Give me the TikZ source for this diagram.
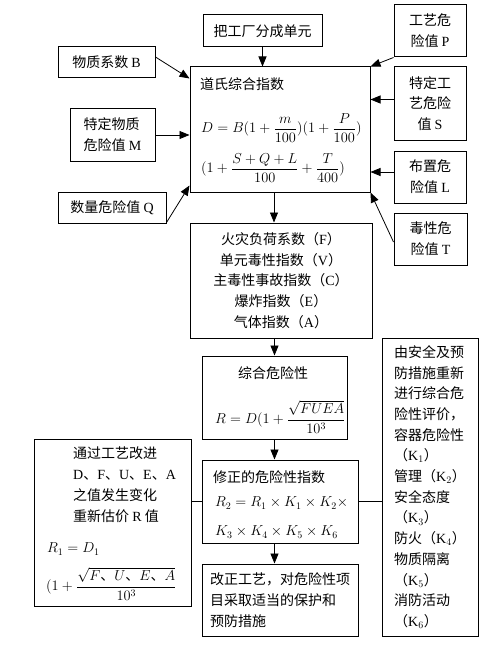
\documentclass[tikz,border=0pt]{standalone}
\usepackage{amsmath}
\usepackage{fontspec}
\setmainfont{Liberation Serif}
\newfontfamily\cjk{Noto Sans CJK SC}
\usetikzlibrary{arrows.meta,positioning}
\newcommand\dun{\mbox{\cjk 、}}
\tikzset{
  box/.style={draw, line width=1pt, inner sep=0pt, align=center, font=\cjk\fontsize{14}{20.7}\selectfont},
  txt/.style={inner sep=0pt, anchor=west, font=\cjk\fontsize{14}{20.7}\selectfont},
  link/.style={-{Triangle[width=8pt,length=10pt]}, line width=0.8pt},
}
\begin{document}
\begin{tikzpicture}[x=1pt, y=-1pt]
  \useasboundingbox (0,0) rectangle (498,650);
  %nodes
  \node[box, minimum width=119pt, minimum height=32pt] (unit) at (262.5,31) {把工厂分成单元};
  \node[box, minimum width=72pt, minimum height=52pt] (proc) at (430,31) {工艺危\\险值 \textrm{P}};
  \node[box, minimum width=97pt, minimum height=31pt] (bmat) at (106.5,62.5) {物质系数 \textrm{B}};
  \node[box, minimum width=180pt, minimum height=125pt] (dow) at (280,129.5) {};
  \node[box, align=left, minimum width=85pt, minimum height=52pt] (mspec) at (112.5,135) {特定物质\\危险值 \textrm{M}};
  \node[box, minimum width=108pt, minimum height=31pt] (qty) at (112,207.5) {数量危险值 \textrm{Q}};
  \node[box, minimum width=72pt, minimum height=73pt] (sproc) at (430,103.5) {特定工\\艺危险\\值 \textrm{S}};
  \node[box, minimum width=72pt, minimum height=52pt] (layout) at (430,177) {布置危\\险值 \textrm{L}};
  \node[box, minimum width=73pt, minimum height=52pt] (toxic) at (430.5,239) {毒性危\\险值 \textrm{T}};
  \node[box, minimum width=182pt, minimum height=115pt] (idx) at (281,280.5)
    {火灾负荷系数（\textrm{F}）\\单元毒性指数（\textrm{V}）\\主毒性事故指数（\textrm{C}）\\爆炸指数（\textrm{E}）\\气体指数（\textrm{A}）};
  \node[box, minimum width=145pt, minimum height=83pt] (risk) at (274.5,397.5) {};
  \node[box, minimum width=156pt, minimum height=83pt] (mod) at (280,501.5) {};
  \node[box, align=left, minimum width=156pt, minimum height=72pt] (fix) at (280,600)
    {改正工艺，对危险性项\\目采取适当的保护和\\预防措施};
  \node[box, align=left, minimum width=96pt, minimum height=298pt] (safety) at (430,487)
    {由安全及预\\防措施重新\\进行综合危\\险性评价，\\容器危险性\\（\textrm{K$_1$}）\\管理（\textrm{K$_2$}）\\安全态度\\（\textrm{K$_3$}）\\防火（\textrm{K$_4$}）\\物质隔离\\（\textrm{K$_5$}）\\消防活动\\（\textrm{K$_6$}）};
  \node[box, minimum width=157pt, minimum height=167pt] (improve) at (112.5,522.5) {};
  %texts in the boxes
  \node[txt] (dowtitle) at (200,84) {道氏综合指数};
  \node[txt] (dowfa) at (201,128) {$D = B(1+\dfrac{m}{100})(1+\dfrac{P}{100})$};
  \node[txt] (dowfb) at (201,168) {$(1+\dfrac{S+Q+L}{100}+\dfrac{T}{400})$};
  \node[txt, anchor=center] (risktitle) at (273,373) {综合危险性};
  \node[txt] (riskf) at (215,417) {$R = D(1+\dfrac{\sqrt{FUEA}}{10^3}$};
  \node[txt] (modtitle) at (213,477) {修正的危险性指数};
  \node[txt] (modfa) at (215,503) {$R_2 = R_1\times K_1\times K_2\times$};
  \node[txt] (modfb) at (215,532) {$K_3\times K_4\times K_5\times K_6$};
  \node[txt, align=left, anchor=north west] (imptext) at (73,447)
    {通过工艺改进\\\textrm{D}、\textrm{F}、\textrm{U}、\textrm{E}、\textrm{A}\\之值发生变化\\重新估价 \textrm{R} 值};
  \node[txt] (impfa) at (47,549) {$R_1 = D_1$};
  \node[txt] (impfb) at (46,584) {$(1+\dfrac{\sqrt{F\dun U\dun E\dun A}}{10^3}$};
  %arrows
  \draw[link] (unit.south) -- (unit.south |- dow.north);
  \draw[link] ([yshift=5.5pt]bmat.east) -- ([yshift=-12pt]dow.north west);
  \draw[link] (mspec.east) -- (mspec.east -| dow.west);
  \draw[link] ([yshift=1pt]qty.south east) -- ([yshift=7pt]dow.south west);
  \draw[link] (proc.south west) -- (dow.north east);
  \draw[link] ([yshift=4pt]sproc.west) -- ([yshift=4pt]sproc.west -| dow.east);
  \draw[link] ([yshift=5pt]layout.west) -- ([yshift=5pt]layout.west -| dow.east);
  \draw[link] ([yshift=-3pt]toxic.west) -- (dow.south east);
  \draw[link] ([xshift=-6pt]dow.south) -- ([xshift=-6pt]dow.south |- idx.north);
  \draw[link] (idx.south -| risk.north) -- (risk.north);
  \draw[link] (risk.south) -- (risk.south |- mod.north);
  \draw[link] (risk.south |- mod.south) -- (risk.south |- fix.north);
  \draw[line width=0.8pt] (improve.east |- mod.west) -- (mod.west);
  \draw[line width=0.8pt] (mod.east) -- (mod.east -| safety.west);
\end{tikzpicture}
\end{document}
